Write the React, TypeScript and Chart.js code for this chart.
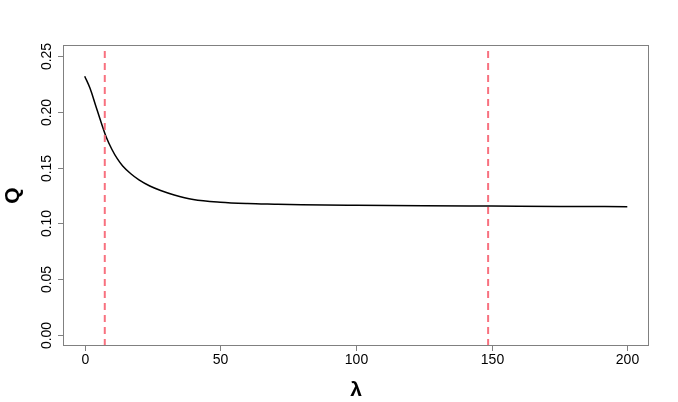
import React, { useEffect, useRef } from "react";
import { Chart, registerables } from "chart.js";

Chart.register(...registerables);

const lambdas = [0, 2, 4, 6, 8, 10, 12, 14, 17, 20, 24, 28, 33, 40, 50, 60, 70, 80, 100, 125, 150, 175, 200];
const qValues = [0.232, 0.221, 0.206, 0.191, 0.177, 0.1665, 0.158, 0.1515, 0.1445, 0.139, 0.1335, 0.1295, 0.1255, 0.1215, 0.119, 0.1178, 0.1172, 0.1167, 0.1162, 0.1158, 0.1155, 0.1152, 0.115];
const cutoffs = [7.4, 148.7];
const xTicks = [0, 50, 100, 150, 200];
const yTicks = [0, 0.05, 0.1, 0.15, 0.2, 0.25];
const xRange = [-8, 208];
const yRange = [-0.01, 0.26];
const xTitle = "λ";
const yTitle = "Q";

const FONT = "'Liberation Sans', Arial, sans-serif";

const axesPlugin = {
  id: "rAxes",
  afterDraw(chart: any) {
    const { ctx, chartArea, scales } = chart;
    const xs = scales.x;
    const ys = scales.y;
    ctx.save();
    ctx.strokeStyle = "#808080";
    ctx.lineWidth = 1;
    ctx.strokeRect(
      Math.round(chartArea.left) + 0.5,
      Math.round(chartArea.top) + 0.5,
      Math.round(chartArea.right - chartArea.left) - 1,
      Math.round(chartArea.bottom - chartArea.top) - 1
    );
    ctx.fillStyle = "#000";
    ctx.font = `14px ${FONT}`;
    ctx.textAlign = "center";
    ctx.textBaseline = "middle";
    const bottom = Math.round(chartArea.bottom);
    xTicks.forEach((t) => {
      const px = Math.round(xs.getPixelForValue(t)) + 0.5;
      ctx.beginPath();
      ctx.moveTo(px, bottom);
      ctx.lineTo(px, bottom + 5);
      ctx.stroke();
      ctx.fillText(String(t), px, bottom + 14);
    });
    const left = Math.round(chartArea.left);
    yTicks.forEach((t) => {
      const py = Math.round(ys.getPixelForValue(t)) + 0.5;
      ctx.beginPath();
      ctx.moveTo(left, py);
      ctx.lineTo(left - 5, py);
      ctx.stroke();
      ctx.save();
      ctx.translate(left - 16, py);
      ctx.rotate(-Math.PI / 2);
      ctx.fillText(t.toFixed(2), 0, 0);
      ctx.restore();
    });
    ctx.font = `bold 21px ${FONT}`;
    ctx.fillText(xTitle, (chartArea.left + chartArea.right) / 2, 390);
    ctx.save();
    ctx.translate(13, (chartArea.top + chartArea.bottom) / 2);
    ctx.rotate(-Math.PI / 2);
    ctx.fillText(yTitle, 0, 0);
    ctx.restore();
    ctx.restore();
  },
};

export default function App() {
  const ref = useRef<HTMLCanvasElement>(null);
  useEffect(() => {
    if (!ref.current) return;
    const curve = lambdas.map((l, i) => ({ x: l, y: qValues[i] }));
    const vlines = cutoffs.map((c) => ({
      data: [
        { x: c, y: yRange[0] },
        { x: c, y: yRange[1] },
      ],
      borderColor: "#F8717F",
      borderWidth: 2,
      borderDash: [7, 5],
      pointRadius: 0,
      order: 1,
    }));
    const chart = new Chart(ref.current, {
      type: "line",
      data: {
        datasets: [
          {
            data: curve,
            borderColor: "#000",
            borderWidth: 1.5,
            pointRadius: 0,
            cubicInterpolationMode: "monotone",
            order: 2,
          } as any,
          ...vlines,
        ],
      },
      options: {
        responsive: false,
        animation: false,
        devicePixelRatio: 1,
        layout: { padding: { left: 63, right: 29, top: 45, bottom: 56 } },
        plugins: { legend: { display: false }, tooltip: { enabled: false } },
        scales: {
          x: { type: "linear", display: false, min: xRange[0], max: xRange[1] },
          y: { type: "linear", display: false, min: yRange[0], max: yRange[1] },
        },
      },
      plugins: [axesPlugin],
    });
    return () => chart.destroy();
  }, []);
  return (
    <div style={{ position: "absolute", left: 0, top: 0, width: 678, height: 402, background: "#fff" }}>
      <canvas ref={ref} width={678} height={402} style={{ width: 678, height: 402 }} />
    </div>
  );
}
